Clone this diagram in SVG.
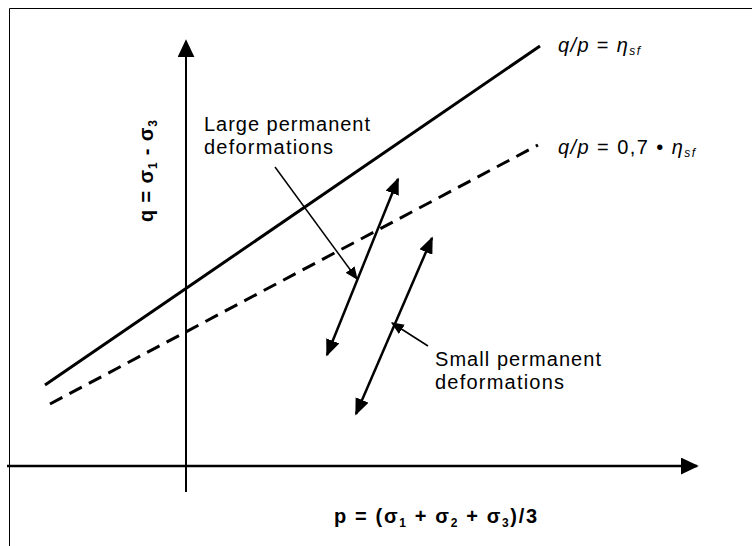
<svg xmlns="http://www.w3.org/2000/svg" width="752" height="546" viewBox="0 0 752 546">
<style>
.t{font-family:"Liberation Sans",Arial,sans-serif;font-size:20px;fill:#000}
.b{font-weight:bold}
.ln{stroke:#000;fill:none}
</style>
<defs>
<marker id="ax" viewBox="0 0 10 10" refX="9" refY="5" markerWidth="18" markerHeight="17" orient="auto" markerUnits="userSpaceOnUse" preserveAspectRatio="none"><path d="M0,0 L10,5 L0,10 Z" fill="#000"/></marker>
<marker id="ah" viewBox="0 0 10 10" refX="9" refY="5" markerWidth="17" markerHeight="14" orient="auto-start-reverse" markerUnits="userSpaceOnUse" preserveAspectRatio="none"><path d="M0,0 L10,5 L0,10 Z" fill="#000"/></marker>
<marker id="as" viewBox="0 0 10 10" refX="9" refY="5" markerWidth="13" markerHeight="11" orient="auto" markerUnits="userSpaceOnUse" preserveAspectRatio="none"><path d="M0,0 L10,5 L0,10 Z" fill="#000"/></marker>
</defs>
<rect x="0" y="0" width="752" height="546" fill="#fff"/>
<path d="M9.5,546 V8.5 H752" class="ln" stroke="#555" stroke-width="1"/>
<g id="connectors">
<line x1="186" y1="492" x2="186" y2="41" class="ln" stroke-width="2" marker-end="url(#ax)"/>
<line x1="7" y1="466" x2="697" y2="466" class="ln" stroke-width="2.5" marker-end="url(#ax)"/>
<line x1="45" y1="385" x2="540" y2="46" class="ln" stroke-width="3"/>
<line x1="50" y1="404" x2="538" y2="145" class="ln" stroke-width="3" stroke-dasharray="14,8"/>
<line x1="327" y1="355" x2="398" y2="179" class="ln" stroke-width="2.5" marker-start="url(#ah)" marker-end="url(#ah)"/>
<line x1="356" y1="414" x2="432" y2="238" class="ln" stroke-width="2.5" marker-start="url(#ah)" marker-end="url(#ah)"/>
<line x1="275" y1="167" x2="357" y2="279" class="ln" stroke-width="1.5" marker-end="url(#as)"/>
<line x1="428" y1="346" x2="392" y2="323" class="ln" stroke-width="1.5" marker-end="url(#as)"/>
</g>
<g id="ylabel"><text class="t b" font-size="19" transform="translate(153,222) rotate(-90)" textLength="102" lengthAdjust="spacing">q = σ<tspan font-size="12" dy="4">1</tspan><tspan dy="-4"> - σ</tspan><tspan font-size="12" dy="4">3</tspan></text></g>
<g id="xlabel"><text class="t b" x="334" y="523" textLength="203" lengthAdjust="spacing">p = (σ<tspan font-size="12" dy="4">1</tspan><tspan dy="-4"> + σ</tspan><tspan font-size="12" dy="4">2</tspan><tspan dy="-4"> + σ</tspan><tspan font-size="12" dy="4">3</tspan><tspan dy="-4">)/3</tspan></text></g>
<g id="line1label"><text class="t" font-size="18" x="558" y="52" textLength="82" lengthAdjust="spacing"><tspan font-style="italic">q/p</tspan> = <tspan font-style="italic">η</tspan><tspan font-style="italic" font-size="12" dy="3">sf</tspan></text></g>
<g id="line2label"><text class="t" font-size="18" x="558" y="154" textLength="137" lengthAdjust="spacing"><tspan font-style="italic">q/p</tspan> = 0,7 • <tspan font-style="italic">η</tspan><tspan font-style="italic" font-size="12" dy="3">sf</tspan></text></g>
<g id="large"><text class="t" x="204" y="131" textLength="166" lengthAdjust="spacing">Large permanent</text><text class="t" x="204" y="154" textLength="129" lengthAdjust="spacing">deformations</text></g>
<g id="small"><text class="t" x="435" y="366" textLength="166" lengthAdjust="spacing">Small permanent</text><text class="t" x="435" y="389" textLength="129" lengthAdjust="spacing">deformations</text></g>
</svg>
